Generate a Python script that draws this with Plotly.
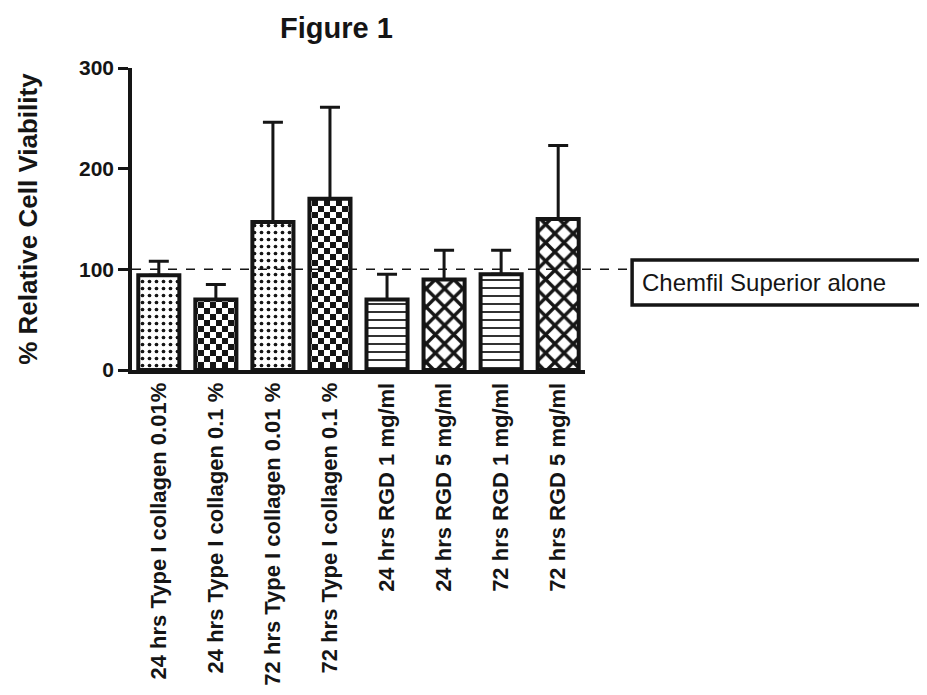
import plotly.graph_objects as go

categories = [
    "24 hrs Type I collagen 0.01%",
    "24 hrs Type I collagen 0.1 %",
    "72 hrs Type I collagen 0.01 %",
    "72 hrs Type I collagen 0.1 %",
    "24 hrs RGD 1 mg/ml",
    "24 hrs RGD 5 mg/ml",
    "72 hrs RGD 1 mg/ml",
    "72 hrs RGD 5 mg/ml",
]
means = [94, 70, 147, 170, 70, 90, 95, 150]
errors = [14, 15, 99, 91, 25, 29, 24, 73]
patterns = ["dots", "checker", "dots", "checker", "hlines", "cross", "hlines", "cross"]
reference_value = 100
reference_label = "Chemfil Superior alone"
y_ticks = [0, 100, 200, 300]

INK = "#151515"
FONT = "Liberation Sans, Arial, sans-serif"

fig = go.Figure()

pattern_styles = {
    "dots": dict(shape=".", size=7, solidity=0.22, fgcolor=INK, bgcolor="white", fgopacity=1),
    "checker": dict(path="M0,0H6V6H0ZM6,6H12V12H6Z", size=12, fgcolor=INK, bgcolor="white",
                    fgopacity=1),
    "hlines": dict(shape="-", size=8, solidity=0.22, fgcolor=INK, bgcolor="white", fgopacity=1),
    "cross": dict(shape="x", size=13, solidity=0.45, fgcolor=INK, bgcolor="white", fgopacity=1),
}

for i, cat in enumerate(categories):
    fig.add_trace(go.Bar(
        x=[cat], y=[means[i]],
        width=0.72,
        marker=dict(color="white", line=dict(color=INK, width=4),
                    pattern=pattern_styles[patterns[i]]),
        error_y=dict(type="data", array=[errors[i]], arrayminus=[0], symmetric=False,
                     color=INK, thickness=3, width=10),
        showlegend=False,
    ))

fig.update_layout(
    width=927, height=695,
    margin=dict(l=124, r=350, t=60, b=333, autoexpand=False),
    paper_bgcolor="white", plot_bgcolor="white",
    font=dict(family=FONT, color=INK),
    xaxis=dict(
        range=[-0.47, 7.47], showline=True, linecolor=INK, linewidth=4,
        ticks="", tickangle=-90, automargin=False,
        tickfont=dict(size=22, family=FONT, weight="bold", color=INK),
        showgrid=False, zeroline=False,
    ),
    yaxis=dict(
        range=[0, 300], tickvals=y_ticks, showline=True, linecolor=INK, linewidth=3.5,
        ticks="outside", ticklen=10, tickwidth=3, tickcolor=INK, automargin=False,
        tickfont=dict(size=21, family=FONT, weight="bold", color=INK),
        showgrid=False, zeroline=False,
    ),
)

# reference dashed line and its label box
fig.add_shape(type="line", xref="paper", yref="y", x0=0, x1=1.104,
              y0=reference_value, y1=reference_value,
              line=dict(color=INK, width=1.5, dash="dash"), layer="above")
fig.add_shape(type="rect", xref="paper", yref="paper", x0=1.104, x1=1.80,
              y0=0.215, y1=0.364, line=dict(color=INK, width=3.5), fillcolor="white")
fig.add_annotation(text=reference_label, xref="paper", yref="paper", x=1.121, y=0.29,
                   xanchor="left", yanchor="middle", showarrow=False,
                   font=dict(size=24, family=FONT, color=INK))

# title and y axis title
fig.add_annotation(text="<b>Figure 1</b>", xref="paper", yref="paper", x=0.4525, y=1.133,
                   xanchor="center", yanchor="middle", showarrow=False,
                   font=dict(size=29, family=FONT, color=INK))
fig.add_annotation(text="<b>% Relative Cell Viability</b>", xref="paper", yref="paper",
                   x=-0.23, y=0.5, textangle=-90, xanchor="center", yanchor="middle",
                   showarrow=False, font=dict(size=26, family=FONT, color=INK))

fig.write_html("out.html")
